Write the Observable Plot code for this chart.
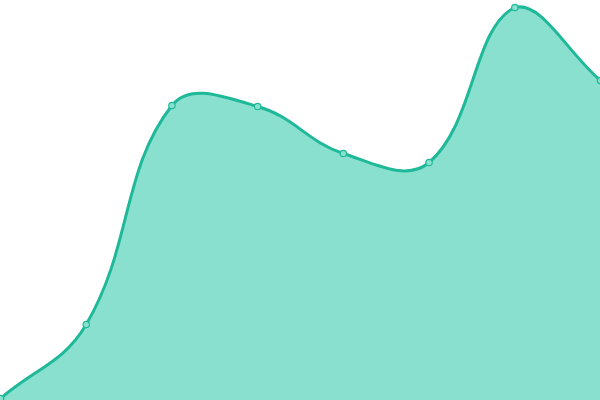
<!DOCTYPE html>
<html><head><meta charset="utf-8">
<script src="https://cdn.jsdelivr.net/npm/d3@7"></script>
<script src="https://cdn.jsdelivr.net/npm/@observablehq/plot@0.6"></script>
<style>html,body{margin:0;padding:0;background:#fff;overflow:hidden}</style>
</head><body><div id="chart"></div>
<script>
const xs = [0, 1, 2, 3, 4, 5, 6, 7];
const values = [0.5, 19, 73.75, 73.5, 61.75, 59.5, 98.25, 80];
const data = xs.map((x, i) => ({x, y: values[i]}));
const W = 600, H = 400;

// Spline with distance-weighted control points (tension 0.4), control points capped to the frame
function splineCurve(tension) {
  function Curve(context) { this._context = context; }
  Curve.prototype = {
    areaStart() { this._line = 0; },
    areaEnd() { this._line = NaN; },
    lineStart() { this._x = []; this._y = []; },
    point(x, y) { this._x.push(+x); this._y.push(+y); },
    lineEnd() {
      const X = this._x, Y = this._y, n = X.length, c = this._context;
      if (n) {
        this._line ? c.lineTo(X[0], Y[0]) : c.moveTo(X[0], Y[0]);
        if (n === 2) c.lineTo(X[1], Y[1]);
        else if (n > 2) {
          const cpPrev = [], cpNext = [];
          for (let i = 0; i < n; ++i) {
            const pi = i > 0 ? i - 1 : i, ni = i < n - 1 ? i + 1 : i;
            const d01 = Math.hypot(X[i] - X[pi], Y[i] - Y[pi]);
            const d12 = Math.hypot(X[ni] - X[i], Y[ni] - Y[i]);
            let s01 = d01 / (d01 + d12), s12 = d12 / (d01 + d12);
            if (isNaN(s01)) s01 = 0;
            if (isNaN(s12)) s12 = 0;
            const fa = tension * s01, fb = tension * s12;
            const dx = X[ni] - X[pi], dy = Y[ni] - Y[pi];
            const cl = v => v;
            cpPrev[i] = [Math.max(0, Math.min(W, X[i] - fa * dx)), Math.max(0, Math.min(H, Y[i] - fa * dy))];
            cpNext[i] = [Math.max(0, Math.min(W, X[i] + fb * dx)), Math.max(0, Math.min(H, Y[i] + fb * dy))];
          }
          for (let i = 1; i < n; ++i) {
            c.bezierCurveTo(cpNext[i - 1][0], cpNext[i - 1][1], cpPrev[i][0], cpPrev[i][1], X[i], Y[i]);
          }
        }
      }
      if (this._line || (this._line !== 0 && n === 1)) c.closePath();
      this._line = 1 - this._line;
      this._x = this._y = null;
    }
  };
  return context => new Curve(context);
}
const curve = splineCurve(0.4);

const chart = Plot.plot({
  width: W, height: H,
  margin: 0,
  x: {domain: [0, 7], axis: null},
  y: {domain: [0, 100], axis: null},
  marks: [
    Plot.areaY(data, {x: "x", y: "y", curve, fill: "#89e0cf"}),
    Plot.lineY(data, {x: "x", y: "y", curve, stroke: "#1fb99a", strokeWidth: 3}),
    Plot.dot(data, {x: "x", y: "y", r: 3.2, fill: "#89e0cf", stroke: "#1fb99a", strokeWidth: 1.2})
  ]
});
document.getElementById("chart").appendChild(chart);
</script></body></html>
